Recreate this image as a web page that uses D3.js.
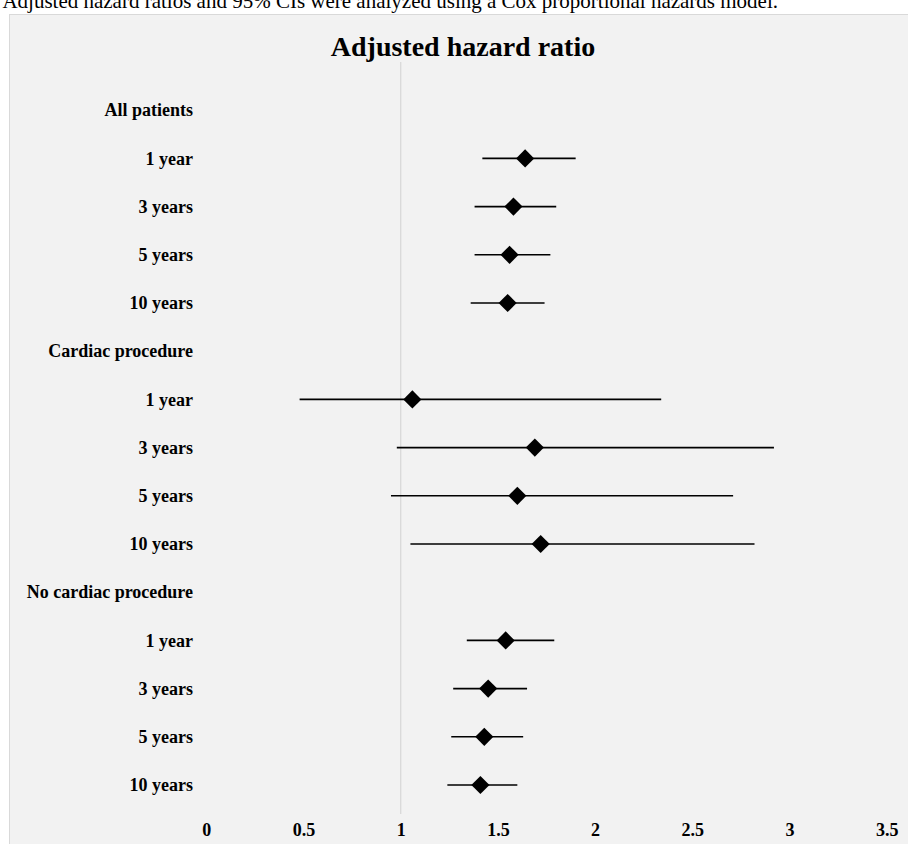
<!DOCTYPE html>
<meta charset="utf-8">
<title>Adjusted hazard ratio</title>
<script src="https://d3js.org/d3.v7.min.js"></script>
<style>
  body { margin: 0; background: #fff; }
  svg text { font-family: "Liberation Serif", "Times New Roman", serif; }
</style>
<div id="chart"></div>
<script>
  // values
  const groups = ["All patients", "Cardiac procedure", "No cardiac procedure"];
  const periods = ["1 year", "3 years", "5 years", "10 years"];
  const xTicks = [0, 0.5, 1, 1.5, 2, 2.5, 3, 3.5];

  const allHR = [1.64, 1.58, 1.56, 1.55];
  const allLo = [1.42, 1.38, 1.38, 1.36];
  const allHi = [1.90, 1.80, 1.77, 1.74];

  const cardHR = [1.06, 1.69, 1.60, 1.72];
  const cardLo = [0.48, 0.98, 0.95, 1.05];
  const cardHi = [2.34, 2.92, 2.71, 2.82];

  const noCardHR = [1.54, 1.45, 1.43, 1.41];
  const noCardLo = [1.34, 1.27, 1.26, 1.24];
  const noCardHi = [1.79, 1.65, 1.63, 1.60];

  const series = [
    { hr: allHR, lo: allLo, hi: allHi },
    { hr: cardHR, lo: cardLo, hi: cardHi },
    { hr: noCardHR, lo: noCardLo, hi: noCardHi }
  ];

  // build rows: a heading then the four periods
  const rows = [];
  groups.forEach((g, gi) => {
    rows.push({ label: g, heading: true });
    periods.forEach((p, pi) => {
      rows.push({
        label: p,
        heading: false,
        hr: series[gi].hr[pi],
        lo: series[gi].lo[pi],
        hi: series[gi].hi[pi]
      });
    });
  });

  const W = 908, H = 844;

  const svg = d3.select("#chart")
    .append("svg")
    .attr("width", W)
    .attr("height", H);

  // caption line, cut off at the top of the page as in the source
  svg.append("text")
    .attr("x", 778)
    .attr("y", 8)
    .attr("text-anchor", "end")
    .style("font-size", "21px")
    .text("Adjusted hazard ratios and 95% CIs were analyzed using a Cox proportional hazards model.");

  svg.append("rect")
    .attr("x", 9.5)
    .attr("y", 14.5)
    .attr("width", 1000)
    .attr("height", 900)
    .attr("fill", "#f2f2f2")
    .attr("stroke", "#d9d9d9");

  svg.append("text")
    .attr("x", 463)
    .attr("y", 56)
    .attr("text-anchor", "middle")
    .style("font-size", "28px")
    .style("font-weight", "bold")
    .text("Adjusted hazard ratio");

  const x = d3.scaleLinear()
    .domain([0, 3.5])
    .range([206.3, 886.7]);

  // row index -> vertical position, index rows.length is the tick label row
  const y = d3.scaleLinear()
    .domain([0, rows.length])
    .range([110.2, 110.2 + rows.length * 48.2]);

  // reference line at HR = 1
  svg.append("line")
    .attr("x1", x(1))
    .attr("x2", x(1))
    .attr("y1", y(-1))
    .attr("y2", y(rows.length - 0.4))
    .attr("stroke", "#d9d9d9")
    .attr("stroke-width", 1.3);

  // row labels
  const yAxis = svg.append("g")
    .attr("transform", "translate(193,0)")
    .call(d3.axisLeft(d3.scaleOrdinal().domain(rows.map((d, i) => i)).range(rows.map((d, i) => y(i))))
      .tickSize(0).tickPadding(0)
      .tickFormat(i => rows[i].label));
  yAxis.select(".domain").remove();
  yAxis.selectAll("text")
    .attr("fill", "#000")
    .style("font-family", "Liberation Serif, serif")
    .style("font-size", "18px")
    .style("font-weight", "bold");

  // x tick labels
  const xAxis = svg.append("g")
    .attr("transform", `translate(0,${y(rows.length) - 10})`)
    .call(d3.axisBottom(x).tickValues(xTicks).tickSize(0).tickPadding(0)
      .tickFormat(d3.format("")));
  xAxis.select(".domain").remove();
  xAxis.selectAll("text")
    .attr("fill", "#000")
    .style("font-family", "Liberation Serif, serif")
    .style("font-size", "18px")
    .style("font-weight", "bold");

  const pts = rows.map((d, i) => ({ ...d, i })).filter(d => !d.heading);

  svg.selectAll(".ci")
    .data(pts)
    .join("line")
    .attr("class", "ci")
    .attr("x1", d => x(d.lo))
    .attr("x2", d => x(d.hi))
    .attr("y1", d => y(d.i))
    .attr("y2", d => y(d.i))
    .attr("stroke", "#000")
    .attr("stroke-width", 1.6);

  svg.selectAll(".pt")
    .data(pts)
    .join("path")
    .attr("class", "pt")
    .attr("d", d3.symbol(d3.symbolSquare, 165))
    .attr("transform", d => `translate(${x(d.hr)},${y(d.i)}) rotate(45)`)
    .attr("fill", "#000");
</script>
